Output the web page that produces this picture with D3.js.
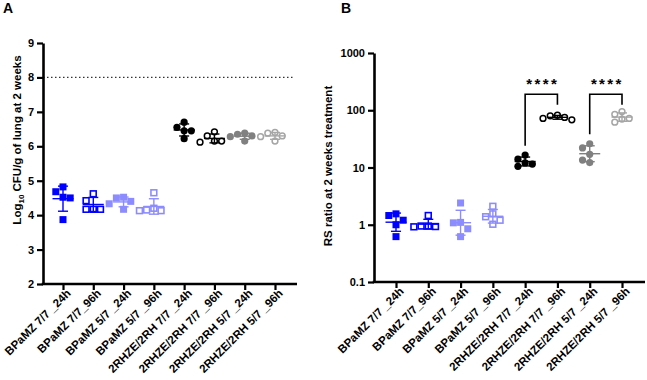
<!DOCTYPE html>
<html>
<head>
<meta charset="utf-8">
<script src="https://cdn.jsdelivr.net/npm/d3@7/dist/d3.min.js"></script>
<style>
  html, body { margin: 0; padding: 0; background: #fff; }
  svg { display: block; font-family: "Liberation Sans", Arial, sans-serif; }
  text { font-weight: bold; fill: #000; }
</style>
</head>
<body>
<svg id="chart" width="647" height="380"></svg>
<script>
// ---------------- DATA ----------------
const categories = [
  "BPaMZ 7/7 _24h", "BPaMZ 7/7_96h", "BPaMZ 5/7 _24h", "BPaMZ 5/7 _96h",
  "2RHZE/2RH 7/7 _24h", "2RHZE/2RH 7/7 _96h", "2RHZE/2RH 5/7 _24h", "2RHZE/2RH 5/7 _96h"
];
const seriesColors = ["#0000ff", "#0000ff", "#8c8cff", "#8c8cff", "#000000", "#000000", "#808080", "#a6a6a6"];
const seriesShapes = ["square", "square", "square", "square", "circle", "circle", "circle", "circle"];
const seriesFilled = [true, false, true, false, true, false, true, false];

// Panel A: log10 CFU/g of lung
const cfuValues = [
  [4.82, 4.68, 4.52, 4.50, 3.87],
  [4.62, 4.42, 4.17, 4.17, 4.17],
  [4.52, 4.50, 4.40, 4.33, 4.17],
  [4.65, 4.20, 4.15, 4.13, 4.13],
  [6.70, 6.55, 6.45, 6.45, 6.22],
  [6.42, 6.30, 6.15, 6.12, 6.15],
  [6.38, 6.35, 6.30, 6.28, 6.15],
  [6.40, 6.38, 6.30, 6.28, 6.15]
];
const cfuTicks = [2, 3, 4, 5, 6, 7, 8, 9];
const cfuDomain = [2, 9];
const cfuReference = 8;

// Panel B: RS ratio
const rsValues = [
  [1.55, 1.45, 1.20, 1.00, 0.62],
  [1.45, 0.95, 0.95, 0.93, 0.92],
  [2.40, 1.10, 1.08, 0.85, 0.62],
  [2.10, 1.55, 1.38, 1.20, 1.02],
  [16.5, 14.0, 12.0, 11.5, 10.5],
  [82, 80, 75, 72, 68],
  [26, 22, 17, 13.5, 12.2],
  [95, 85, 72, 70, 62]
];
const rsTicks = [0.1, 1, 10, 100, 1000];
const rsTickLabels = ["0.1", "1", "10", "100", "1000"];
const rsDomain = [0.1, 1000];

// significance brackets (panel B)
const sigPairs = [[4, 5], [6, 7]];
const sigTop = [190, 190];
const sigLeftEnd = [24, 38];
const sigRightEnd = [125, 125];
const sigLabels = ["****", "****"];

// ---------------- DRAW ----------------
const svg = d3.select("#chart");

function swarm(vals, yPix, d) {
  const placed = [];
  const order = vals.map((v, i) => i).sort((a, b) => vals[b] - vals[a]);
  const out = new Array(vals.length);
  order.forEach(i => {
    const y = yPix(vals[i]);
    const cands = [0];
    for (let k = 1; k <= 4; k++) cands.push(-k * d, k * d);
    let off = 0;
    for (const c of cands) {
      if (placed.every(p => Math.hypot(p.x - c, p.y - y) >= d * 0.97)) { off = c; break; }
    }
    placed.push({ x: off, y });
    out[i] = { off, y, v: vals[i] };
  });
  return out;
}

function drawPanel(cfg) {
  const g = svg.append("g");
  const x = d3.scalePoint().domain(categories).range([cfg.x0 + cfg.pad, cfg.x1 - cfg.padR]);
  const y = cfg.y;

  // reference line
  if (cfg.refLine != null) {
    g.append("line")
      .attr("x1", cfg.x0).attr("x2", cfg.x1 - 2)
      .attr("y1", y(cfg.refLine)).attr("y2", y(cfg.refLine))
      .attr("stroke", "#333").attr("stroke-width", 1.3)
      .attr("stroke-dasharray", "1.5,2.5");
  }

  // Y axis
  const yAxis = d3.axisLeft(y).tickValues(cfg.ticks).tickSize(6).tickSizeOuter(0).tickPadding(3)
    .tickFormat((d, i) => cfg.tickLabels ? cfg.tickLabels[i] : d);
  const ya = g.append("g").attr("transform", `translate(${cfg.x0},0)`).call(yAxis);
  ya.select(".domain").attr("stroke-width", 2.6).attr("stroke", "#000");
  ya.selectAll(".tick line").attr("stroke-width", 2.2).attr("stroke", "#000");
  ya.selectAll("text").style("font-size", "11px").style("font-weight", "bold").attr("fill", "#000");

  // X axis
  const xAxis = d3.axisBottom(x).tickSize(6).tickSizeOuter(0).tickPadding(2);
  const xa = g.append("g").attr("transform", `translate(0,${cfg.yBase})`).call(xAxis);
  xa.select(".domain").remove();
  xa.selectAll(".tick line").attr("stroke-width", 2.2).attr("stroke", "#000");
  xa.selectAll("text")
    .style("font-size", "11.5px").style("font-weight", "bold").attr("fill", "#000")
    .attr("text-anchor", "end")
    .attr("y", 0).attr("dy", "0")
    .attr("transform", "translate(8,10) rotate(-45)");
  g.append("line")
    .attr("x1", cfg.x0 - 1.3).attr("x2", cfg.x1)
    .attr("y1", cfg.yBase).attr("y2", cfg.yBase)
    .attr("stroke", "#000").attr("stroke-width", 2.6);

  // points + error bars
  const d = 7.2;
  categories.forEach((cat, gi) => {
    const vals = cfg.values[gi];
    const cx = x(cat);
    const col = seriesColors[gi];
    const filled = seriesFilled[gi];
    const pts = swarm(vals, y, d);
    const pg = g.append("g");
    pts.forEach(p => {
      if (seriesShapes[gi] === "square") {
        const s = filled ? 7 : 5.8;
        pg.append("rect")
          .attr("x", cx + p.off - s / 2).attr("y", p.y - s / 2)
          .attr("width", s).attr("height", s)
          .attr("fill", filled ? col : "#fff")
          .attr("stroke", filled ? "none" : col).attr("stroke-width", 1.6);
      } else {
        const r = filled ? 3.6 : 2.9;
        pg.append("circle")
          .attr("cx", cx + p.off).attr("cy", p.y).attr("r", r)
          .attr("fill", filled ? col : "#fff")
          .attr("stroke", filled ? "none" : col).attr("stroke-width", 1.5);
      }
    });
    let center, lo, hi;
    if (cfg.geometric) {
      const lv = vals.map(Math.log10);
      const m = d3.mean(lv), s = d3.deviation(lv);
      center = Math.pow(10, m); lo = Math.pow(10, m - s); hi = Math.pow(10, m + s);
    } else {
      const m = d3.mean(vals), s = d3.deviation(vals);
      center = m; lo = m - s; hi = m + s;
    }
    const eg = g.append("g").attr("stroke", col).attr("stroke-width", 1.4).attr("fill", "none");
    eg.append("line").attr("x1", cx).attr("x2", cx).attr("y1", y(lo)).attr("y2", y(hi));
    eg.append("line").attr("x1", cx - 5).attr("x2", cx + 5).attr("y1", y(lo)).attr("y2", y(lo));
    eg.append("line").attr("x1", cx - 5).attr("x2", cx + 5).attr("y1", y(hi)).attr("y2", y(hi));
    eg.append("line").attr("x1", cx - 10.5).attr("x2", cx + 10.5).attr("y1", y(center)).attr("y2", y(center));
  });

  // significance brackets
  if (cfg.sig) {
    cfg.sig.pairs.forEach((pair, i) => {
      const xl = x(categories[pair[0]]), xr = x(categories[pair[1]]);
      const yt = y(cfg.sig.top[i]);
      g.append("path")
        .attr("d", `M${xl},${y(cfg.sig.left[i])}V${yt}H${xr}V${y(cfg.sig.right[i])}`)
        .attr("fill", "none").attr("stroke", "#000").attr("stroke-width", 1.6);
      g.append("text")
        .attr("x", (xl + xr) / 2 + 1.5).attr("y", yt - 5)
        .attr("text-anchor", "middle")
        .style("font-size", "15px").style("letter-spacing", "2.4px")
        .text(cfg.sig.labels[i]);
    });
  }

  // y title
  const t = g.append("text")
    .attr("transform", `translate(${cfg.titleX},${cfg.titleY}) rotate(-90)`)
    .attr("text-anchor", "middle")
    .style("font-size", "11.5px");
  cfg.title(t);

  // panel letter
  g.append("text").attr("x", cfg.letterX).attr("y", 13)
    .style("font-size", "14px").text(cfg.letter);
}

drawPanel({
  letter: "A", letterX: 3,
  x0: 43, x1: 297, pad: 20, padR: 22, yBase: 284,
  y: d3.scaleLinear().domain(cfuDomain).range([284, 43]),
  ticks: cfuTicks,
  values: cfuValues,
  refLine: cfuReference,
  geometric: false,
  titleX: 21, titleY: 140,
  title: t => {
    t.append("tspan").text("Log");
    t.append("tspan").attr("dy", "3").style("font-size", "8px").text("10");
    t.append("tspan").attr("dy", "-3").text(" CFU/g of lung at 2 weeks");
  }
});

drawPanel({
  letter: "B", letterX: 341,
  x0: 374, x1: 645, pad: 22, padR: 23, yBase: 282,
  y: d3.scaleLog().domain(rsDomain).range([282, 53]),
  ticks: rsTicks, tickLabels: rsTickLabels,
  values: rsValues,
  refLine: null,
  geometric: true,
  sig: { pairs: sigPairs, top: sigTop, left: sigLeftEnd, right: sigRightEnd, labels: sigLabels },
  titleX: 332, titleY: 166,
  title: t => { t.text("RS ratio at 2 weeks treatment"); }
});
</script>
</body>
</html>
